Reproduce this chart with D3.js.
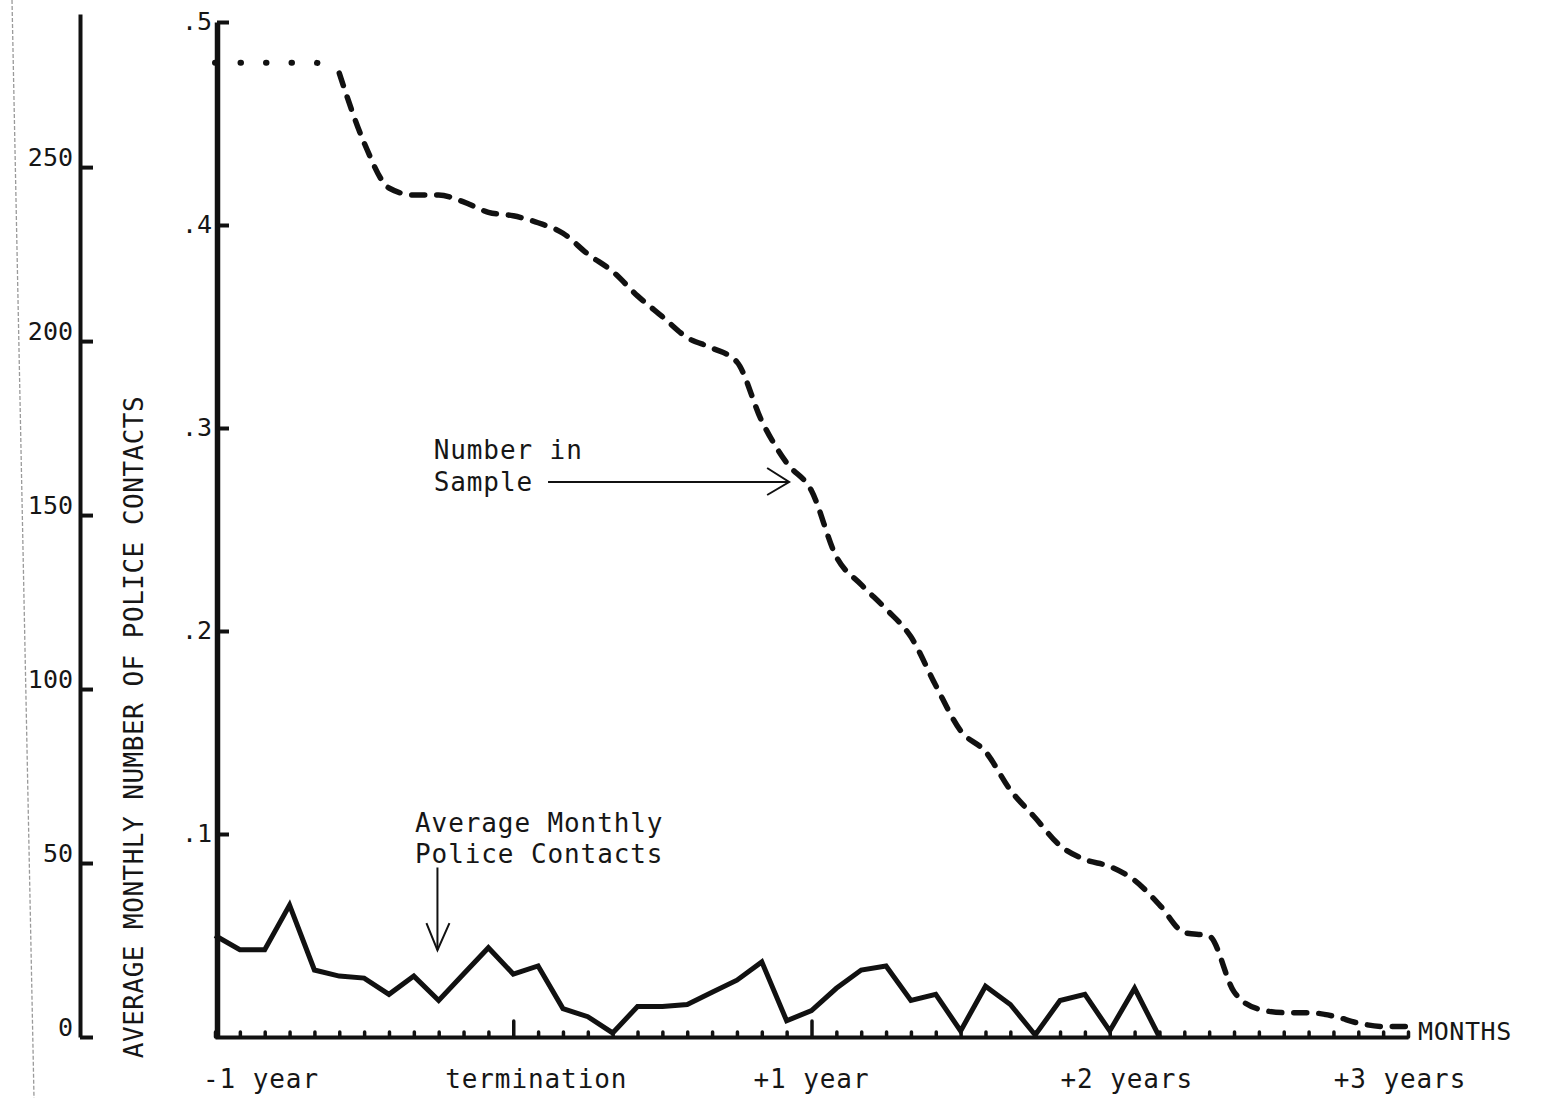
<!DOCTYPE html>
<html>
<head>
<meta charset="utf-8">
<script src="https://cdn.jsdelivr.net/npm/d3@7"></script>
<style>
  body { margin: 0; background: #fff; }
  svg { display: block; background: #fff; }
  text { font-family: "DejaVu Sans Mono", "Liberation Mono", monospace; fill: #161616; }
</style>
</head>
<body>
<svg id="chart" width="1546" height="1098"></svg>
<script>
// months relative to termination (-1 year .. +3 years)
const months = [-12, -11, -10, -9, -8, -7, -6, -5, -4, -3, -2, -1, 0,
  1, 2, 3, 4, 5, 6, 7, 8, 9, 10, 11, 12, 13, 14, 15, 16, 17, 18, 19, 20,
  21, 22, 23, 24, 25, 26, 27, 28, 29, 30, 31, 32, 33, 34, 35, 36];

const sampleSize = [280, 280, 280, 280, 280, 277, 257, 244, 242, 242, 240, 237, 236,
  234, 231, 225, 220, 213, 207, 201, 198, 194, 177, 165, 157, 138, 130, 123, 115,
  101, 88, 82, 71, 63, 55, 51, 49, 45, 38, 30, 29, 13, 8, 7, 7, 6, 4, 3, 3];

// average monthly police contacts (stops at +26 months)
const policeContacts = [0.050, 0.043, 0.043, 0.065, 0.033, 0.030, 0.029, 0.021, 0.030,
  0.018, 0.031, 0.044, 0.031, 0.035, 0.014, 0.010, 0.002, 0.015, 0.015, 0.016, 0.022,
  0.028, 0.037, 0.008, 0.013, 0.024, 0.033, 0.035, 0.018, 0.021, 0.003, 0.025, 0.016,
  0.001, 0.018, 0.021, 0.003, 0.024, 0.000];

const sampleTicks = [0, 50, 100, 150, 200, 250];
const rateTicks = [0.1, 0.2, 0.3, 0.4, 0.5];
const yearTicks = [-12, 0, 12, 24, 36];
const yearLabels = ["-1 year", "termination", "+1 year", "+2 years", "+3 years"];
const majorTicks = [0, 12];

const svg = d3.select("#chart");

const x = d3.scaleLinear().domain([-12, 36]).range([215, 1408]);
const ySample = d3.scaleLinear().domain([0, 294]).range([1037, 14]);
const yRate = d3.scaleLinear().domain([0, 0.5]).range([1037, 22]);

// faint page edge from the scan
svg.append("line")
  .attr("x1", 12).attr("y1", 0).attr("x2", 34).attr("y2", 1098)
  .attr("stroke", "#9a9a9a").attr("stroke-width", 1.3)
  .attr("stroke-dasharray", "4 2");

// outer axis: number in sample
const gOuter = svg.append("g").attr("transform", `translate(${80},0)`)
  .call(d3.axisLeft(ySample).tickValues(sampleTicks).tickSize(-13).tickSizeOuter(0).tickPadding(7));
gOuter.select(".domain").attr("stroke", "#111").attr("stroke-width", 4);
gOuter.selectAll(".tick line").attr("stroke", "#111").attr("stroke-width", 4);
gOuter.selectAll(".tick text")
  .attr("font-size", 25).attr("font-family", "DejaVu Sans Mono").attr("fill", "#161616")
  .attr("dy", "-0.05em");

// inner axis: police contacts
const gInner = svg.append("g").attr("transform", `translate(${217},0)`)
  .call(d3.axisLeft(yRate).tickValues(rateTicks).tickSize(-12).tickSizeOuter(0).tickPadding(5)
    .tickFormat(d => d3.format(".1f")(d).replace("0.", ".")));
gInner.select(".domain").attr("stroke", "#111").attr("stroke-width", 5.5);
gInner.selectAll(".tick line").attr("stroke", "#111").attr("stroke-width", 4);
gInner.selectAll(".tick text")
  .attr("font-size", 25).attr("font-family", "DejaVu Sans Mono").attr("fill", "#161616")
  .attr("dy", "0.3em");

// x axis: months
const gX = svg.append("g").attr("transform", `translate(0,${1037})`)
  .call(d3.axisBottom(x).tickValues(months).tickSize(-5).tickSizeOuter(0).tickFormat(""));
gX.select(".domain").attr("stroke", "#111").attr("stroke-width", 4);
gX.selectAll(".tick line").attr("stroke", "#111").attr("stroke-width", 3.5)
  .attr("stroke-linecap", "round")
  .filter(d => majorTicks.includes(d)).attr("y2", -16);

const labelShift = [46, 23, 0, 17, -8];
svg.append("g").selectAll("text")
  .data(yearTicks)
  .join("text")
  .attr("x", (d, i) => x(d) + labelShift[i])
  .attr("y", 1088)
  .attr("text-anchor", "middle")
  .attr("font-size", 26)
  .attr("letter-spacing", 0.9)
  .text((d, i) => yearLabels[i]);

svg.append("text")
  .attr("x", x(36) + 10).attr("y", 1040)
  .attr("font-size", 25).attr("letter-spacing", 0.6)
  .text("MONTHS");

// y title
svg.append("text")
  .attr("transform", `translate(143,727) rotate(-90)`)
  .attr("text-anchor", "middle")
  .attr("font-size", 26)
  .attr("letter-spacing", 0.5)
  .text("AVERAGE MONTHLY NUMBER OF POLICE CONTACTS");

// number in sample: dotted start, then dashes
const sampleLine = d3.line()
  .x(d => x(d[0]))
  .y(d => ySample(d[1]))
  .curve(d3.curveMonotoneX);
const samplePts = sampleSize.map((v, i) => [months[i], v]);

svg.append("path")
  .datum(samplePts.slice(0, 6))
  .attr("fill", "none").attr("stroke", "#111").attr("stroke-width", 6)
  .attr("stroke-linecap", "round").attr("stroke-dasharray", "0.5 25")
  .attr("d", sampleLine);

svg.append("path")
  .datum(samplePts.slice(5))
  .attr("fill", "none").attr("stroke", "#111").attr("stroke-width", 5.5)
  .attr("stroke-linecap", "round").attr("stroke-dasharray", "13 12")
  .attr("d", sampleLine);

// police contacts: solid
const contactLine = d3.line()
  .x(d => x(d[0]))
  .y(d => yRate(d[1]));

svg.append("path")
  .datum(policeContacts.map((v, i) => [months[i], v]))
  .attr("fill", "none").attr("stroke", "#111").attr("stroke-width", 5)
  .attr("stroke-linejoin", "miter")
  .attr("d", contactLine);

// annotation: Number in Sample
const ann1 = svg.append("g");
ann1.append("text").attr("x", x(-3.2)).attr("y", ySample(166))
  .attr("font-size", 26).attr("letter-spacing", 0.9).text("Number in");
ann1.append("text").attr("x", x(-3.2)).attr("y", ySample(157))
  .attr("font-size", 26).attr("letter-spacing", 0.9).text("Sample");
const tip1 = [x(11.1), ySample(159.5)];
ann1.append("line")
  .attr("x1", x(1.4)).attr("y1", tip1[1]).attr("x2", tip1[0]).attr("y2", tip1[1])
  .attr("stroke", "#111").attr("stroke-width", 2);
ann1.append("path")
  .attr("d", `M${tip1[0] - 22},${tip1[1] - 14}L${tip1[0]},${tip1[1]}L${tip1[0] - 22},${tip1[1] + 13}`)
  .attr("fill", "none").attr("stroke", "#111").attr("stroke-width", 2);

// annotation: Average Monthly Police Contacts
const ann2 = svg.append("g");
ann2.append("text").attr("x", x(-3.95)).attr("y", yRate(0.101))
  .attr("font-size", 26).attr("letter-spacing", 0.9).text("Average Monthly");
ann2.append("text").attr("x", x(-3.95)).attr("y", yRate(0.0857))
  .attr("font-size", 26).attr("letter-spacing", 0.9).text("Police Contacts");
const tip2 = [x(-3.05), yRate(0.0428)];
ann2.append("line")
  .attr("x1", tip2[0]).attr("y1", yRate(0.0835)).attr("x2", tip2[0]).attr("y2", tip2[1])
  .attr("stroke", "#111").attr("stroke-width", 2);
ann2.append("path")
  .attr("d", `M${tip2[0] - 11},${tip2[1] - 27}L${tip2[0]},${tip2[1]}L${tip2[0] + 12},${tip2[1] - 27}`)
  .attr("fill", "none").attr("stroke", "#111").attr("stroke-width", 2);
</script>
</body>
</html>
